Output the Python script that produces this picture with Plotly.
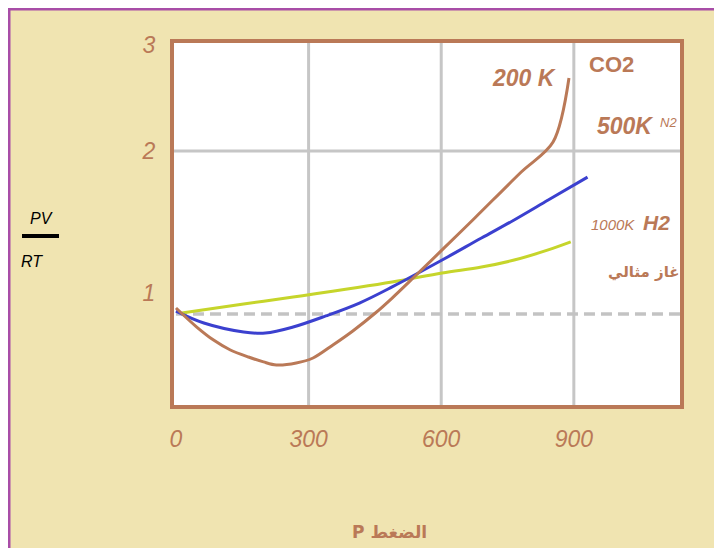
import plotly.graph_objects as go

# ---------------- data ----------------
P_co2 = [0, 47, 85, 123, 164, 198, 227, 272, 310, 355, 400, 451, 489, 541, 602, 676, 781, 853, 889]
Z_co2 = [1.037, 0.92, 0.84, 0.779, 0.736, 0.706, 0.687, 0.699, 0.73, 0.81, 0.896, 1.006,
         1.098, 1.233, 1.393, 1.589, 1.871, 2.055, 2.448]

P_n2 = [0, 63, 153, 202, 265, 339, 415, 489, 602, 691, 765, 842, 931]
Z_n2 = [1.018, 0.945, 0.89, 0.883, 0.92, 0.988, 1.067, 1.166, 1.331, 1.466, 1.577, 1.699, 1.84]

P_h2 = [13, 153, 265, 489, 602, 691, 765, 842, 893]
Z_h2 = [1.006, 1.061, 1.104, 1.196, 1.252, 1.288, 1.331, 1.393, 1.442]

P_ideal = [0, 1145]
Z_ideal = [1, 1]

x_tick_vals = [0, 300, 600, 900]
x_tick_text = ["0", "300", "600", "900"]
y_tick_vals = [1.13, 2.0, 2.65]
y_tick_text = ["1", "2", "3"]

# ---------------- styling ----------------
OFF = 8  # page body margin
W, H = 722 - OFF, 548 - OFF
L, R, T, B = 174 - OFF, 680 - OFF, 43 - OFF, 405 - OFF
BROWN = "#BA7957"
BLUE = "#3B40CF"
YELLOW = "#C6D52B"
GRID = "#C6C6C6"
BEIGE = "#F0E4B1"
PURPLE = "#A84DA7"


def px(x):
    return (x - OFF - L) / (R - L)


def py(y):
    return (B - (y - OFF)) / (B - T)


fig = go.Figure()
fig.add_trace(go.Scatter(x=P_ideal, y=Z_ideal, mode="lines",
                         line=dict(color="#C3C3C3", width=3.5, dash="11px,6px"),
                         hoverinfo="skip", showlegend=False))
fig.add_trace(go.Scatter(x=P_h2, y=Z_h2, mode="lines",
                         line=dict(color=YELLOW, width=3, shape="spline", smoothing=1),
                         showlegend=False))
fig.add_trace(go.Scatter(x=P_n2, y=Z_n2, mode="lines",
                         line=dict(color=BLUE, width=3, shape="spline", smoothing=1),
                         showlegend=False))
fig.add_trace(go.Scatter(x=P_co2, y=Z_co2, mode="lines",
                         line=dict(color=BROWN, width=3, shape="spline", smoothing=0.9),
                         showlegend=False))

shapes = [
    # beige page with purple frame
    dict(type="rect", xref="paper", yref="paper",
         x0=px(9), x1=px(760), y0=py(9), y1=py(600),
         fillcolor=BEIGE, line=dict(color=PURPLE, width=3), layer="below"),
    # white plotting area
    dict(type="rect", xref="paper", yref="paper",
         x0=0, x1=1, y0=0, y1=1, fillcolor="white",
         line=dict(width=0), layer="below"),
    # horizontal grid line at 2
    dict(type="line", xref="paper", yref="y", x0=px(170), x1=1, y0=2, y1=2,
         line=dict(color=GRID, width=3), layer="below"),
    # fraction bar PV/RT
    dict(type="line", xref="paper", yref="paper", x0=px(22), x1=px(59),
         y0=py(236), y1=py(236), line=dict(color="black", width=4)),
]
for v in x_tick_vals[1:]:
    shapes.append(dict(type="line", xref="x", yref="paper", x0=v, x1=v, y0=0, y1=1,
                       line=dict(color=GRID, width=3), layer="below"))

tick_font = dict(family="Liberation Sans", size=23, color=BROWN, style="italic")


def ann(text, x, y, size, bold=True, italic=True, color=BROWN, family="Liberation Sans", xanchor="center"):
    return dict(text=text, x=px(x), y=py(y), xref="paper", yref="paper", showarrow=False,
                xanchor=xanchor, yanchor="middle",
                font=dict(family=family, size=size, color=color,
                          weight="bold" if bold else "normal",
                          style="italic" if italic else "normal"))


annotations = [
    ann("CO2", 611, 64, 22, bold=True, italic=False),
    ann("200 K", 524, 78, 23),
    ann("500K", 625, 126, 23),
    ann("N2", 668, 122, 13, bold=False),
    ann("1000K", 613, 225, 15, bold=False),
    ann("H2", 656, 223, 21),
    ann("غاز مثالي", 644, 272, 15, italic=False, family="DejaVu Sans"),
    ann("PV", 41, 218, 16, bold=False, color="black"),
    ann("RT", 32, 261, 16, bold=False, color="black"),
    ann("P الضغط", 389, 532, 17, italic=False, family="DejaVu Sans"),
]

x_per_px = 900 / 401.0
x_lo = -(174 - 172) * x_per_px
x_hi = (680 - 172) * x_per_px
y_per_px = 1 / 163.0
y_hi = 2 + (151 - 43) * y_per_px
y_lo = 1 - (405 - 314) * y_per_px

fig.update_layout(
    width=W, height=H, autosize=False,
    margin=dict(l=L, r=W - R, t=T, b=H - B, pad=0),
    paper_bgcolor="white", plot_bgcolor="white",
    shapes=shapes, annotations=annotations,
    xaxis=dict(range=[x_lo, x_hi], tickvals=x_tick_vals, ticktext=x_tick_text,
               showgrid=False, zeroline=False, ticks="",
               showline=True, mirror=True, linecolor=BROWN, linewidth=4,
               tickfont=tick_font, ticklabelstandoff=10),
    yaxis=dict(range=[y_lo, y_hi], tickvals=y_tick_vals, ticktext=y_tick_text,
               showgrid=False, zeroline=False, ticks="",
               showline=True, mirror=True, linecolor=BROWN, linewidth=4,
               tickfont=tick_font, ticklabelstandoff=10),
)

fig.write_html("out.html")
